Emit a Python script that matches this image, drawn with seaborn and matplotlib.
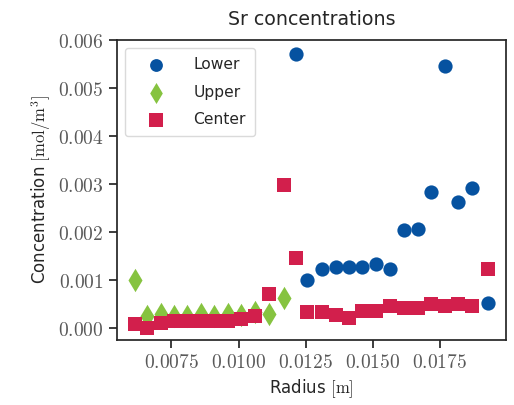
import matplotlib
matplotlib.use("Agg")
import matplotlib.pyplot as plt
from matplotlib.ticker import FuncFormatter, FixedLocator
import seaborn as sns
import pandas as pd

# Radial sampling positions [m]
radius = [0.00613, 0.00659, 0.00711, 0.00759, 0.00808, 0.00861, 0.00910,
          0.00960, 0.01011, 0.01062, 0.01114, 0.01169, 0.01213, 0.01257,
          0.01311, 0.01362, 0.01412, 0.01461, 0.01513, 0.01566, 0.01618,
          0.01670, 0.01719, 0.01770, 0.01819, 0.01872, 0.01931]

# Sr concentration [mol/m^3] per region
upper = [0.00100, 0.00025, 0.00030, 0.00025, 0.00025, 0.00030, 0.00025,
         0.00029, 0.00027, 0.00034, 0.00030, 0.00062]
lower = [0.00571, 0.00099, 0.00124, 0.00128, 0.00128, 0.00128, 0.00133,
         0.00124, 0.00204, 0.00207, 0.00283, 0.00547, 0.00263, 0.00292,
         0.00053]
center = [0.000075, 0.000010, 0.00011, 0.00015, 0.00015, 0.00015, 0.00015,
          0.00015, 0.00019, 0.00024, 0.00070, 0.00297, 0.00145, 0.00033,
          0.00033, 0.00028, 0.00021, 0.00036, 0.00036, 0.00045, 0.00041,
          0.00041, 0.00049, 0.00045, 0.00049, 0.00046, 0.00122]

x_ticks = [0.0075, 0.0100, 0.0125, 0.0150, 0.0175]
y_ticks = [0.000, 0.001, 0.002, 0.003, 0.004, 0.005, 0.006]

df_upper = pd.DataFrame({"r": radius[:len(upper)], "c": upper})
df_lower = pd.DataFrame({"r": radius[len(radius) - len(lower):], "c": lower})
df_center = pd.DataFrame({"r": radius, "c": center})

sns.set_theme(style="ticks")
plt.rcParams["font.family"] = ["DejaVu Sans"]
plt.rcParams["mathtext.fontset"] = "cm"

fig = plt.figure(figsize=(5.14, 4.05), dpi=100)
ax = fig.add_subplot(111)
fig.subplots_adjust(left=0.2276, right=0.9844, top=0.901, bottom=0.1605)

msize = 105
sns.scatterplot(data=df_lower, x="r", y="c", marker="o", s=msize,
                color="#0652a0", linewidth=0, label="Lower", ax=ax, zorder=3)
sns.scatterplot(data=df_upper, x="r", y="c", marker="d", s=msize * 1.35,
                color="#86c340", linewidth=0, label="Upper", ax=ax, zorder=2)
sns.scatterplot(data=df_center, x="r", y="c", marker="s", s=msize * 1.05,
                color="#d21f4c", linewidth=0, label="Center", ax=ax, zorder=4)

ax.set_ylim(-0.00025, 0.006)
ax.xaxis.set_major_locator(FixedLocator(x_ticks))
ax.yaxis.set_major_locator(FixedLocator(y_ticks))
ax.xaxis.set_major_formatter(FuncFormatter(lambda v, p: f"${v:.4f}$"))
ax.yaxis.set_major_formatter(FuncFormatter(lambda v, p: f"${v:.3f}$"))
ax.tick_params(axis="both", labelsize=14, colors=".15", labelcolor=".35")

ax.set_title("Sr concentrations", fontsize=13.7, color=".15", pad=11)
ax.set_xlabel("Radius $[\\mathrm{m}]$", fontsize=12, color=".15")
ax.set_ylabel("Concentration $[\\mathrm{mol/m^3}]$", fontsize=12, color=".15")

leg = ax.legend(loc="upper left", frameon=True, fontsize=11.2,
                handlelength=2.8, handletextpad=1.0, labelspacing=0.8,
                borderpad=0.6, markerscale=0.9)
leg.get_frame().set_edgecolor("0.82")

fig.savefig("out.png", dpi=100)
